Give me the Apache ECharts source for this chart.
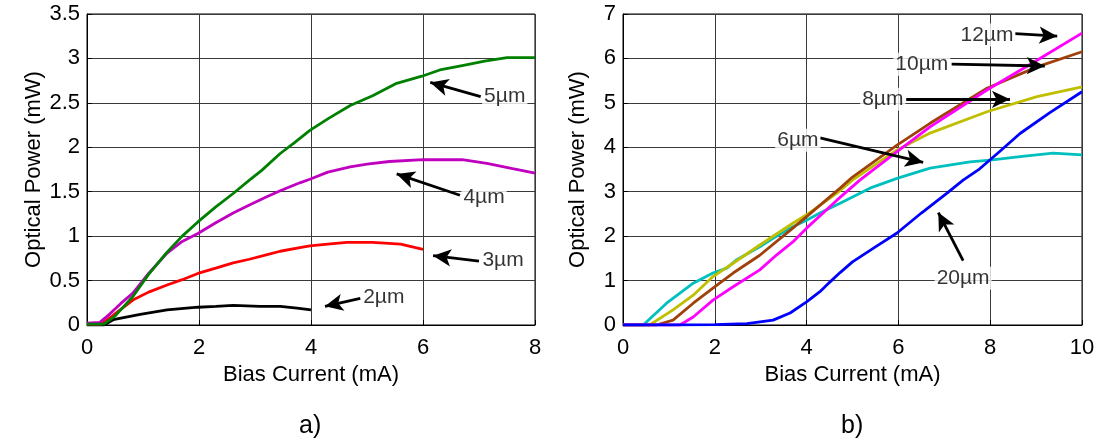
<!DOCTYPE html>
<html><head><meta charset="utf-8">
<script src="https://cdn.jsdelivr.net/npm/echarts@6/dist/echarts.min.js"></script>
<style>html,body{margin:0;padding:0;background:#fff}#c{width:1100px;height:443px}</style>
</head><body><div id="c"></div>
<script>
// ---------- Panel a) ----------
const cur5um = [0, 0.3, 0.5, 0.82, 1.1, 1.43, 1.7, 1.98, 2.3, 2.61, 2.9, 3.12, 3.45, 3.7, 3.98, 4.3, 4.7, 5.1, 5.53, 5.98, 6.3, 6.7, 7.1, 7.5, 8.0];
const pow5um = [0.01, 0.01, 0.1, 0.32, 0.57, 0.82, 1.0, 1.16, 1.33, 1.48, 1.63, 1.74, 1.93, 2.05, 2.19, 2.32, 2.47, 2.58, 2.72, 2.80, 2.87, 2.92, 2.97, 3.01, 3.01];
const cur4um = [0, 0.23, 0.4, 0.6, 0.82, 1.1, 1.43, 1.7, 1.98, 2.3, 2.61, 2.9, 3.2, 3.45, 3.8, 3.98, 4.3, 4.7, 5.0, 5.4, 6.0, 6.7, 7.14, 7.6, 8.0];
const pow4um = [0.02, 0.03, 0.12, 0.24, 0.36, 0.58, 0.81, 0.94, 1.03, 1.15, 1.26, 1.35, 1.44, 1.51, 1.6, 1.64, 1.72, 1.78, 1.81, 1.84, 1.86, 1.86, 1.82, 1.76, 1.71];
const cur3um = [0, 0.25, 0.45, 0.59, 0.82, 1.1, 1.43, 1.7, 1.98, 2.3, 2.61, 2.9, 3.2, 3.45, 3.8, 3.98, 4.3, 4.64, 5.1, 5.6, 6.0];
const pow3um = [0.01, 0.01, 0.1, 0.17, 0.28, 0.37, 0.45, 0.51, 0.58, 0.64, 0.7, 0.74, 0.79, 0.83, 0.87, 0.89, 0.91, 0.93, 0.93, 0.91, 0.85];
const cur2um = [0, 0.3, 0.47, 0.95, 1.43, 1.98, 2.3, 2.61, 3.09, 3.45, 3.75, 4.0];
const pow2um = [0, 0, 0.06, 0.12, 0.17, 0.2, 0.21, 0.22, 0.21, 0.21, 0.19, 0.17];

// ---------- Panel b) ----------
const cur20um = [0, 1, 2, 2.7, 3.27, 3.64, 4.0, 4.29, 4.5, 4.73, 5.0, 5.5, 5.97, 6.5, 7.06, 7.41, 7.74, 8.2, 8.65, 9.3, 10];
const pow20um = [0, 0, 0.01, 0.03, 0.11, 0.27, 0.52, 0.75, 0.96, 1.18, 1.42, 1.76, 2.07, 2.52, 2.97, 3.26, 3.49, 3.9, 4.31, 4.78, 5.25];
const cur6um = [0, 0.44, 0.95, 1.53, 1.96, 2.26, 2.48, 2.98, 3.27, 3.7, 4.0, 4.29, 4.73, 5.38, 5.97, 6.69, 7.56, 8.0, 8.65, 9.37, 10];
const pow6um = [0, 0, 0.49, 0.94, 1.17, 1.28, 1.47, 1.76, 1.95, 2.21, 2.36, 2.52, 2.74, 3.08, 3.3, 3.53, 3.67, 3.71, 3.79, 3.87, 3.83];
const cur8um = [0, 0.58, 1.09, 1.53, 1.96, 2.4, 2.98, 3.7, 4.0, 4.66, 5.0, 5.97, 6.69, 7.93, 9.02, 10];
const pow8um = [0, 0, 0.34, 0.67, 1.09, 1.39, 1.8, 2.29, 2.48, 2.97, 3.26, 3.94, 4.32, 4.8, 5.14, 5.36];
const cur10um = [0, 0.73, 1.09, 1.53, 1.96, 2.4, 2.98, 3.7, 4.0, 4.73, 5.0, 5.97, 6.69, 7.93, 9.02, 10];
const pow10um = [0, 0, 0.11, 0.49, 0.83, 1.17, 1.57, 2.18, 2.44, 3.08, 3.33, 4.05, 4.54, 5.33, 5.81, 6.15];
const cur12um = [0, 1.24, 1.53, 1.96, 2.4, 2.98, 3.35, 3.7, 4.0, 4.66, 5.16, 5.97, 6.69, 7.93, 9.02, 10];
const pow12um = [0, 0, 0.18, 0.56, 0.86, 1.24, 1.58, 1.87, 2.18, 2.81, 3.26, 3.9, 4.46, 5.29, 5.96, 6.57];

// annotations (data coordinates): label, text anchor, arrow tail, arrow tip
const annotLabelsA = ['5µm', '4µm', '3µm', '2µm'];
const annotTextA = [[7.46, 2.57], [7.09, 1.44], [7.43, 0.73], [5.30, 0.31]];
const annotTailA = [[7.03, 2.57], [6.66, 1.46], [7.0, 0.72], [4.88, 0.30]];
const annotTipA = [[6.13, 2.73], [5.53, 1.70], [6.18, 0.78], [4.25, 0.21]];

const annotLabelsB = ['12µm', '10µm', '8µm', '6µm', '20µm'];
const annotTextB = [[7.93, 6.53], [6.51, 5.87], [5.66, 5.08], [3.81, 4.16], [7.41, 1.05]];
const annotTailB = [[8.54, 6.56], [7.16, 5.87], [6.17, 5.08], [4.29, 4.21], [7.41, 1.45]];
const annotTipB = [[9.46, 6.50], [9.19, 5.83], [8.43, 5.08], [6.54, 3.66], [6.87, 2.53]];

const zip = (xs, ys) => xs.map((x, i) => [x, ys[i]]);
const FONT = 'Liberation Sans, Arial, sans-serif';

function lineSeries(xs, ys, color, gi) {
  return {
    type: 'line', xAxisIndex: gi, yAxisIndex: gi, data: zip(xs, ys),
    showSymbol: false, symbol: 'none', smooth: false, clip: true,
    lineStyle: { color: color, width: 2.8 }, z: 3
  };
}
function annotSeries(labels, texts, tails, tips, gi) {
  return {
    type: 'scatter', xAxisIndex: gi, yAxisIndex: gi, symbolSize: 0, z: 5,
    data: labels.map((l, i) => [texts[i][0], texts[i][1], l]),
    label: {
      show: true, position: 'inside', formatter: p => p.value[2],
      color: '#000', fontSize: 21, fontFamily: FONT,
      backgroundColor: '#fff', padding: [1, 2]
    },
    markLine: {
      silent: true, symbol: ['none', 'arrow'], symbolSize: [13, 18],
      lineStyle: { color: '#000', width: 2.8, type: 'solid' },
      label: { show: false },
      data: tails.map((t, i) => [{ coord: t }, { coord: tips[i] }])
    }
  };
}

function xAxis(gi, max) {
  return {
    type: 'value', gridIndex: gi, min: 0, max: max, interval: 2,
    name: 'Bias Current (mA)', nameLocation: 'middle', nameGap: 38,
    nameTextStyle: { color: '#000', fontSize: 22, fontFamily: FONT },
    axisLine: { show: true, lineStyle: { color: '#000', width: 1 } },
    axisTick: { show: true, inside: true, length: 5, lineStyle: { color: '#000' } },
    axisLabel: { color: '#000', fontSize: 22, fontFamily: FONT, margin: 12 },
    splitLine: { show: true, lineStyle: { color: '#3a3a3a', width: 1 } }
  };
}
function yAxis(gi, max, interval, gap) {
  return {
    type: 'value', gridIndex: gi, min: 0, max: max, interval: interval,
    name: 'Optical Power (mW)', nameLocation: 'middle', nameGap: gap,
    nameTextStyle: { color: '#000', fontSize: 22, fontFamily: FONT },
    axisLine: { show: true, lineStyle: { color: '#000', width: 1 } },
    axisTick: { show: true, inside: true, length: 5, lineStyle: { color: '#000' } },
    axisLabel: { color: '#000', fontSize: 22, fontFamily: FONT, margin: 7 },
    splitLine: { show: true, lineStyle: { color: '#3a3a3a', width: 1 } }
  };
}

const chart = echarts.init(document.getElementById('c'), null, { renderer: 'canvas' });
chart.setOption({
  animation: false,
  backgroundColor: '#fff',
  grid: [
    { left: 87, top: 14, width: 448, height: 311, show: true, borderColor: '#000', borderWidth: 1, backgroundColor: 'transparent' },
    { left: 623, top: 14, width: 459, height: 311, show: true, borderColor: '#000', borderWidth: 1, backgroundColor: 'transparent' }
  ],
  xAxis: [xAxis(0, 8), xAxis(1, 10)],
  yAxis: [yAxis(0, 3.5, 0.5, 42), yAxis(1, 7, 1, 34)],
  graphic: [
    { type: 'text', left: 299, top: 414, style: { text: 'a)', fontSize: 25, fontFamily: FONT, fill: '#000' } },
    { type: 'text', left: 841, top: 414, style: { text: 'b)', fontSize: 25, fontFamily: FONT, fill: '#000' } }
  ],
  series: [
    lineSeries(cur2um, pow2um, '#000000', 0),
    lineSeries(cur3um, pow3um, '#FF0000', 0),
    lineSeries(cur4um, pow4um, '#BF00BF', 0),
    lineSeries(cur5um, pow5um, '#008000', 0),
    annotSeries(annotLabelsA, annotTextA, annotTailA, annotTipA, 0),
    lineSeries(cur6um, pow6um, '#00BFBF', 1),
    lineSeries(cur8um, pow8um, '#BFBF00', 1),
    lineSeries(cur10um, pow10um, '#A0400A', 1),
    lineSeries(cur12um, pow12um, '#FF00FF', 1),
    lineSeries(cur20um, pow20um, '#0000FF', 1),
    annotSeries(annotLabelsB, annotTextB, annotTailB, annotTipB, 1)
  ]
});
</script></body></html>
